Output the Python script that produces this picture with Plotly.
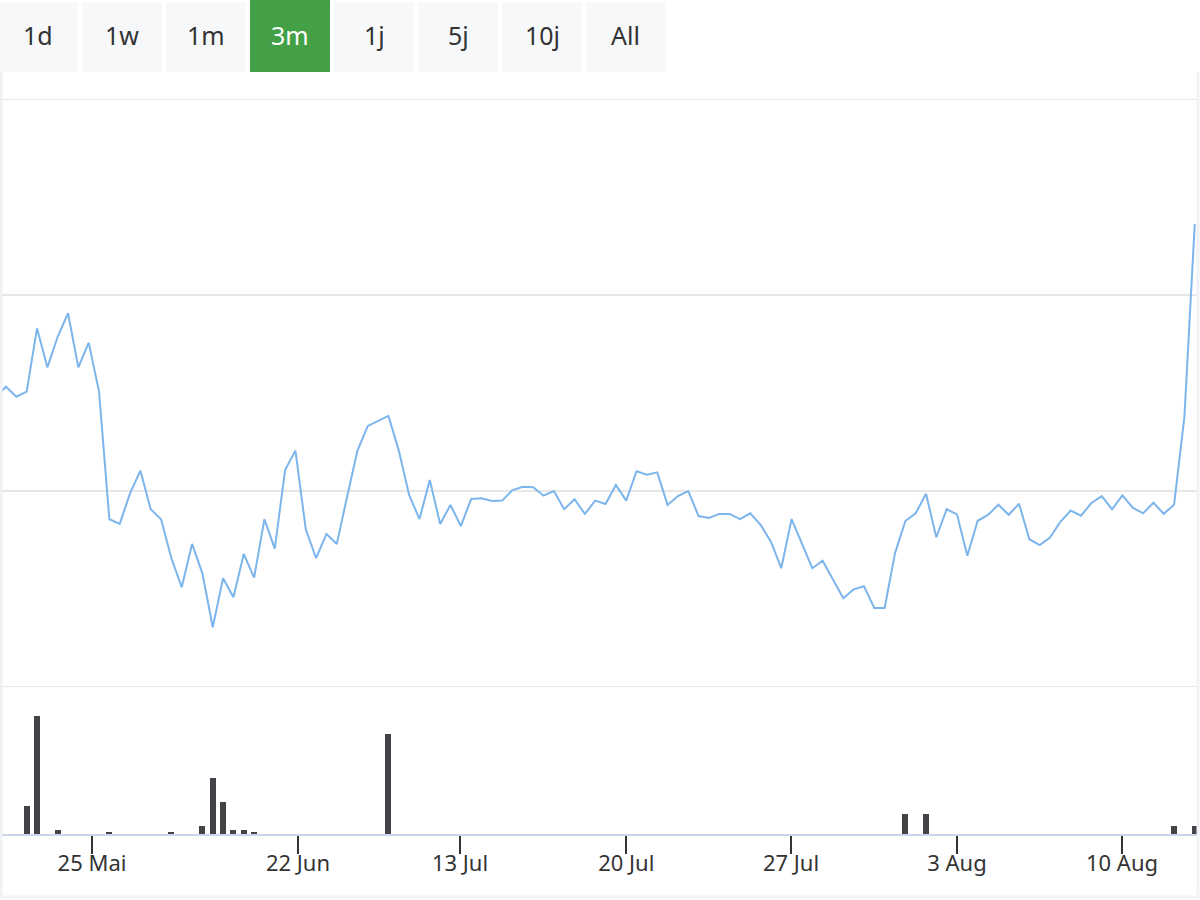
import plotly.graph_objects as go

# Price line, one value per ordinal point (first point sits just left of the view)
PRICE = [
    14.80, 15.32, 14.81, 15.07, 18.30, 16.31, 17.87, 19.07, 16.31, 17.57,
    15.07, 8.56, 8.32, 9.88, 11.04, 9.07, 8.56, 6.57, 5.09, 7.30,
    5.80, 3.05, 5.55, 4.58, 6.79, 5.58, 8.56, 7.06, 11.07, 12.06,
    8.05, 6.57, 7.81, 7.30, 9.71, 12.06, 13.32, 13.57, 13.83, 12.06,
    9.80, 8.57, 10.56, 8.32, 9.29, 8.21, 9.59, 9.63, 9.49, 9.51,
    10.05, 10.22, 10.19, 9.76, 10.00, 9.07, 9.58, 8.83, 9.51, 9.34,
    10.31, 9.51, 11.01, 10.83, 10.95, 9.29, 9.74, 10.00, 8.72, 8.62,
    8.83, 8.83, 8.56, 8.86, 8.27, 7.41, 6.06, 8.57, 7.33, 6.06,
    6.44, 5.49, 4.53, 4.98, 5.14, 4.03, 4.03, 6.82, 8.47, 8.86,
    9.86, 7.64, 9.07, 8.81, 6.70, 8.48, 8.78, 9.30, 8.79, 9.35,
    7.54, 7.24, 7.62, 8.43, 9.00, 8.74, 9.39, 9.74, 9.07, 9.78,
    9.15, 8.86, 9.40, 8.84, 9.30, 13.79, 23.62,
]
POINT_IDX = list(range(-1, len(PRICE) - 1))

# Volume bars (ordinal point index -> volume)
VOL_IDX = [2, 3, 5, 10, 16, 19, 20, 21, 22, 23, 24, 37, 87, 89, 113, 115]
VOL = [14, 59, 2, 1, 1, 4, 28, 16, 2, 2, 1, 50, 10, 10, 4, 4]

# Date ticks on the ordinal axis
TICK_POS = [8.32, 28.25, 43.92, 60.0, 75.94, 92.0, 107.96]
TICK_TEXT = ["25 Mai", "22 Jun", "13 Jul", "20 Jul", "27 Jul", "3 Aug", "10 Aug"]

# price grid levels
GRID = [0, 10, 20, 30]

BUTTONS = ["1d", "1w", "1m", "3m", "1j", "5j", "10j", "All"]
SELECTED = "3m"

W, H = 1200, 900
FONT = "Noto Sans, sans-serif"


def px(x):
    return x / W


def py(y):
    return 1 - y / H


fig = go.Figure()

fig.add_trace(go.Scatter(
    x=POINT_IDX, y=PRICE,
    mode="lines",
    line=dict(color="#7cb5ec", width=2),
    xaxis="x", yaxis="y",
    hoverinfo="skip",
    showlegend=False,
))

fig.add_trace(go.Bar(
    x=VOL_IDX, y=VOL,
    width=0.58,
    marker=dict(color="#434348", line=dict(width=0)),
    xaxis="x", yaxis="y2",
    hoverinfo="skip",
    showlegend=False,
))

shapes = []
annotations = []

# horizontal grid lines (drawn as shapes so the edge lines are kept)
for g in GRID:
    shapes.append(dict(
        type="line", xref="paper", yref="y",
        x0=0, x1=1198 / W, y0=g, y1=g,
        line=dict(color="#e6e6e6", width=2), layer="below",
    ))

# range selector buttons
for k, label in enumerate(BUTTONS):
    x0 = 84 * k - 2
    x1 = x0 + 80
    sel = label == SELECTED
    shapes.append(dict(
        type="rect", xref="paper", yref="paper",
        x0=px(x0), x1=px(x1), y0=py(72), y1=py(0 if sel else 2),
        fillcolor="#43a047" if sel else "#f7f8fa",
        line=dict(width=0), layer="above",
    ))
    annotations.append(dict(
        x=px((x0 + x1) / 2), y=py(35), xref="paper", yref="paper",
        text=label, showarrow=False,
        font=dict(family=FONT, size=25, color="#ffffff" if sel else "#333333"),
        xanchor="center", yanchor="middle",
    ))

# faint frame around the chart body
for (xa, ya, xb, yb) in [(1, 72, 1, 898), (1198, 72, 1198, 898), (1, 897, 1198, 897)]:
    shapes.append(dict(
        type="line", xref="paper", yref="paper",
        x0=px(xa), y0=py(ya), x1=px(xb), y1=py(yb),
        line=dict(color="#f1f2f5", width=3),
    ))

fig.update_layout(
    width=W, height=H,
    margin=dict(l=0, r=0, t=0, b=0),
    paper_bgcolor="#ffffff",
    plot_bgcolor="#ffffff",
    hovermode=False,
    bargap=0,
    shapes=shapes,
    annotations=annotations,
    xaxis=dict(
        domain=[0, 1198 / W],
        range=[-0.5804, 115.314],
        anchor="y2",
        showgrid=False, zeroline=False,
        showline=True, linecolor="#ccd6eb", linewidth=2,
        ticks="outside", ticklen=18, tickwidth=1.5, tickcolor="#333333",
        tickmode="array", tickvals=TICK_POS, ticktext=TICK_TEXT,
        tickfont=dict(family=FONT, size=22, color="#333333"),
        ticklabelstandoff=-9,
        fixedrange=True,
    ),
    yaxis=dict(
        domain=[py(687), py(99)],
        range=[0, 30],
        showgrid=False, zeroline=False, showticklabels=False,
        anchor="x", fixedrange=True,
    ),
    yaxis2=dict(
        domain=[py(834), py(687)],
        range=[0, 73.5],
        showgrid=False, zeroline=False, showticklabels=False,
        anchor="x", fixedrange=True,
    ),
)

fig.write_html(
    "out.html",
    config={"displayModeBar": False},
    post_script="document.body.style.margin='0';",
)
